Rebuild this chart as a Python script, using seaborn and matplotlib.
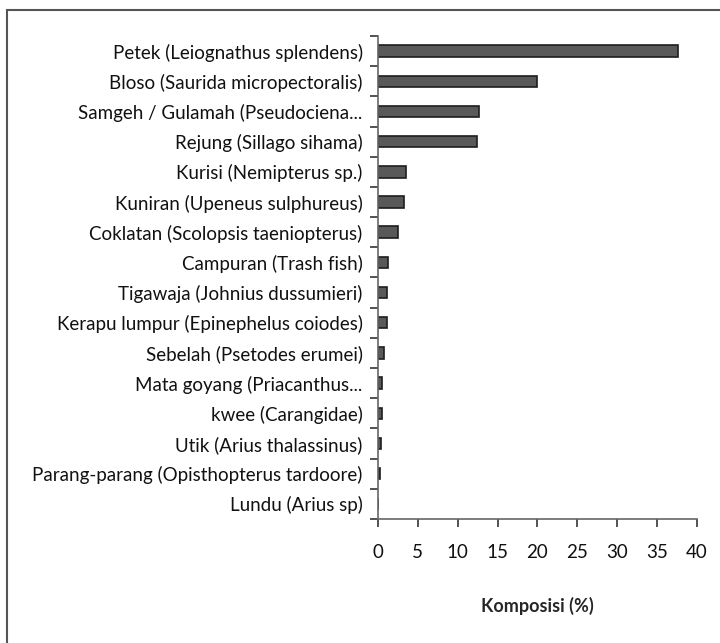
import matplotlib
matplotlib.use("Agg")
import matplotlib.pyplot as plt
import numpy as np
import pandas as pd
import seaborn as sns
from matplotlib.patches import Rectangle

# Data
species = [
    "Petek (Leiognathus splendens)",
    "Bloso (Saurida micropectoralis)",
    "Samgeh / Gulamah (Pseudociena...",
    "Rejung (Sillago sihama)",
    "Kurisi (Nemipterus sp.)",
    "Kuniran (Upeneus sulphureus)",
    "Coklatan (Scolopsis taeniopterus)",
    "Campuran (Trash fish)",
    "Tigawaja (Johnius dussumieri)",
    "Kerapu lumpur (Epinephelus coiodes)",
    "Sebelah (Psetodes erumei)",
    "Mata goyang (Priacanthus...",
    "kwee (Carangidae)",
    "Utik (Arius thalassinus)",
    "Parang-parang (Opisthopterus tardoore)",
    "Lundu (Arius sp)",
]
komposisi = [37.6, 20.0, 12.7, 12.4, 3.5, 3.3, 2.5, 1.3, 1.1, 1.1, 0.7, 0.55, 0.55, 0.35, 0.3, 0.05]
x_ticks = [0, 5, 10, 15, 20, 25, 30, 35, 40]

df = pd.DataFrame({"species": species, "komposisi": komposisi})

sns.set_style("ticks")
plt.rcParams["font.family"] = ["Lato", "DejaVu Sans"]

fig = plt.figure(figsize=(7.2, 6.43), dpi=100)
ax = fig.add_axes([0.525, 0.193, 0.443, 0.751])

sns.barplot(data=df, y="species", x="komposisi", orient="h", ax=ax,
            color="#595959", edgecolor="#1e1e1e", linewidth=1.2, width=0.38,
            saturation=1)

ax.set_xlim(0, 40)
ax.set_ylim(15.5, -0.5)
ax.set_xticks(x_ticks)
ax.set_xticklabels([str(t) for t in x_ticks], fontsize=13.5)
ax.tick_params(axis="x", which="major", bottom=True, direction="out", length=6,
               width=1.3, color="#444444", pad=12, labelcolor="#111111")

# y: unlabeled ticks at category boundaries, labels at category centres
n = len(species)
ax.set_yticks(np.arange(n + 1) - 0.5, [""] * (n + 1))
ax.set_yticks(np.arange(n), species, minor=True)
ax.tick_params(axis="y", which="major", left=True, direction="out", length=6,
               width=1.3, color="#444444")
ax.tick_params(axis="y", which="minor", left=True, length=0, pad=11,
               labelsize=13.5, labelcolor="#111111")

sns.despine(ax=ax)
for s in ["left", "bottom"]:
    ax.spines[s].set_color("#666666")
    ax.spines[s].set_linewidth(1.2)

ax.set_ylabel("")
ax.set_xlabel("Komposisi (%)", fontsize=13, fontweight="bold", labelpad=26)

# outer frame (only top/left visible in the cropped reference)
fig.patches.append(Rectangle((0.01, -0.05), 1.2, 1.034, transform=fig.transFigure,
                             fill=False, edgecolor="#555555", linewidth=1.5))

fig.savefig("out.png", dpi=100)
